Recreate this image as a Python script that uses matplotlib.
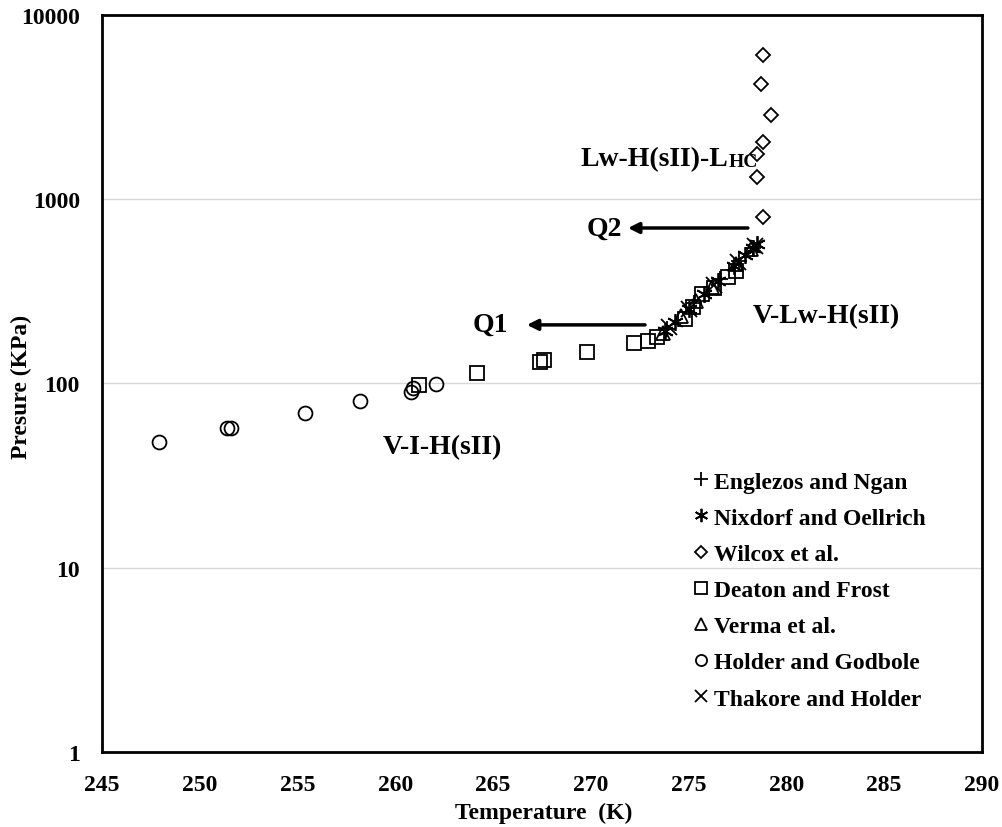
import matplotlib
matplotlib.use('Agg')
import matplotlib.pyplot as plt
from matplotlib import rcParams

rcParams['font.family'] = ['Liberation Serif', 'DejaVu Serif']
rcParams['font.weight'] = 'bold'
rcParams['mathtext.default'] = 'regular'

# ---- data ----
T_englezos = [273.9, 275.3, 276.6, 277.6, 278.3]
P_englezos = [197, 273, 369, 465, 547]

T_nixdorf = [273.8, 274.3, 275.0, 275.8, 276.5, 277.3, 277.9, 278.3, 278.5]
P_nixdorf = [193, 216, 255, 306, 360, 434, 499, 547, 573]

T_wilcox = [278.8, 278.7, 279.2, 278.8, 278.5, 278.5, 278.8]
P_wilcox = [6067, 4222, 2866, 2045, 1761, 1320, 801]

T_deaton = [261.2, 264.2, 267.4, 267.6, 269.8, 272.2, 272.9, 273.4,
            274.8, 275.2, 275.7, 276.3, 277.0, 277.4]
P_deaton = [98.2, 114, 131, 134, 148, 166, 170, 179,
            224, 260, 306, 330, 378, 410]

T_verma = [273.7, 274.6, 275.4, 276.2, 277.4, 278.2]
P_verma = [188, 232, 279, 336, 444, 534]

T_holder = [247.9, 251.4, 251.6, 255.4, 258.2, 260.8, 260.9, 262.1]
P_holder = [48.1, 57.4, 57.4, 69.2, 80.4, 89.9, 94.5, 99.4]

T_thakore = [274.0, 275.0, 276.3, 277.5, 278.4]
P_thakore = [202, 255, 344, 454, 560]

x_ticks = [245, 250, 255, 260, 265, 270, 275, 280, 285, 290]
y_ticks = [1, 10, 100, 1000, 10000]

# ---- figure ----
fig = plt.figure(figsize=(10.03, 8.28), dpi=100)
ax = fig.add_axes([0.1017, 0.0906, 0.8773, 0.8901])

mk = dict(linestyle='none', color='black', markerfacecolor='none', markeredgewidth=1.3)

ax.plot(T_holder, P_holder, marker='o', markersize=10, label='Holder and Godbole', **mk)
ax.plot(T_deaton, P_deaton, marker='s', markersize=10, label='Deaton and Frost', **mk)
ax.plot(T_wilcox, P_wilcox, marker='D', markersize=7.5, label='Wilcox et al.', **mk)
ax.plot(T_verma, P_verma, marker='^', markersize=10, label='Verma et al.', **mk)
ax.plot(T_englezos, P_englezos, marker='+', markersize=12, label='Englezos and Ngan', **mk)
ax.plot(T_nixdorf, P_nixdorf, marker=(6, 2, 0), markersize=12, label='Nixdorf and Oellrich', **mk)
ax.plot(T_thakore, P_thakore, marker='x', markersize=11, label='Thakore and Holder', **mk)

ax.set_xlim(245, 290)
ax.set_yscale('log')
ax.set_ylim(1, 10000)
ax.set_xticks(x_ticks)
ax.set_xticklabels([str(v) for v in x_ticks])
ax.set_yticks(y_ticks)
ax.set_yticklabels([str(v) for v in y_ticks])
ax.yaxis.set_minor_locator(matplotlib.ticker.NullLocator())
ax.tick_params(axis='both', length=0, labelsize=17)
ax.tick_params(axis='y', pad=16)
ax.tick_params(axis='x', pad=16)

ax.grid(True, axis='y', color='#d9d9d9', linewidth=1)
ax.set_axisbelow(True)
for s in ax.spines.values():
    s.set_linewidth(2)
    s.set_color('black')

ax.set_xlabel('Temperature  (K)', fontsize=17, fontweight='bold')
ax.set_ylabel('Presure (KPa)', fontsize=17, fontweight='bold')
ax.xaxis.set_label_coords(0.502, -0.068)
ax.yaxis.set_label_coords(-0.08, 0.497)

# ---- annotations ----
ann = dict(fontsize=20, fontweight='bold')
ax.text(278.29, 235, 'V-Lw-H(sII)', ha='left', va='center', **ann)
ax.text(259.37, 45.2, 'V-I-H(sII)', ha='left', va='center', **ann)
ax.text(271.6, 698, 'Q2', ha='right', va='center', **ann)
ax.text(265.76, 209, 'Q1', ha='right', va='center', **ann)
t1 = ax.text(269.49, 1652, 'Lw-H(sII)-L', ha='left', va='center', **ann)
ax.annotate('HC', xy=(1, 0), xycoords=t1, xytext=(0, 1), textcoords='offset points',
            ha='left', va='bottom', fontsize=14, fontweight='bold')

arrow = dict(arrowstyle='-|>', color='black', lw=2.5, mutation_scale=16, shrinkA=0, shrinkB=0)
ax.annotate('', xy=(271.9, 698), xytext=(278.03, 698), arrowprops=arrow)
ax.annotate('', xy=(266.73, 208), xytext=(272.77, 208), arrowprops=arrow)

# ---- legend ----
order = ['Englezos and Ngan', 'Nixdorf and Oellrich', 'Wilcox et al.', 'Deaton and Frost',
         'Verma et al.', 'Holder and Godbole', 'Thakore and Holder']
handles, labels = ax.get_legend_handles_labels()
hmap = dict(zip(labels, handles))
leg = ax.legend([hmap[k] for k in order], order, loc='upper left',
                bbox_to_anchor=(693 / 1003, 1 - 472 / 828), bbox_transform=fig.transFigure,
                frameon=False, markerscale=0.8, handlelength=0.7, handletextpad=0.2,
                labelspacing=0.62, borderpad=0, borderaxespad=0,
                prop={'size': 17, 'weight': 'bold'})

fig.savefig('out.png', dpi=100, facecolor='white')
